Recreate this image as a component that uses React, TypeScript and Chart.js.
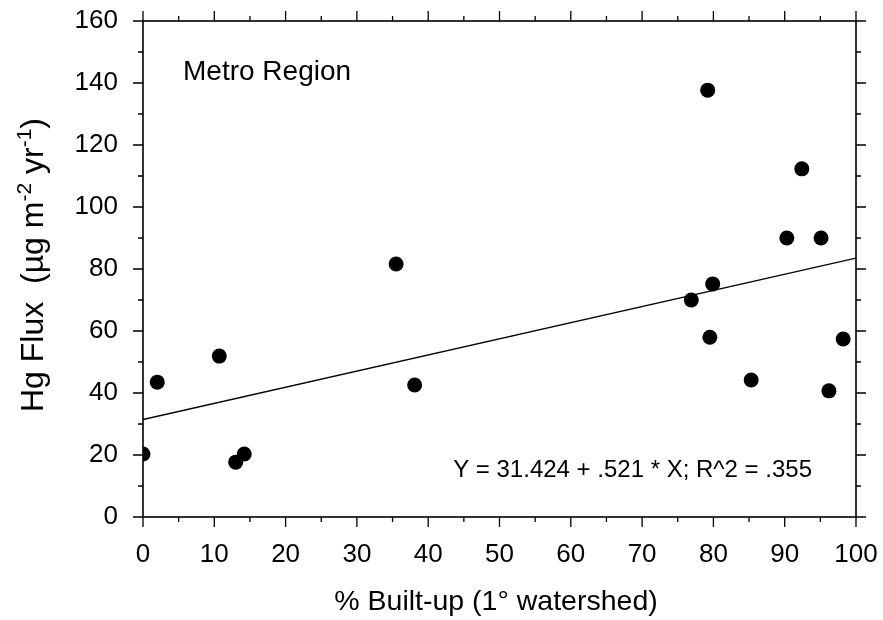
import React, { useEffect, useRef } from "react";
import { Chart, registerables } from "chart.js";

Chart.register(...registerables);

const builtUp = [0, 2, 10.7, 13.0, 14.2, 35.5, 38.1, 76.9, 79.2, 79.9, 79.5, 92.4, 90.3, 95.1, 85.3, 96.2, 98.2];
const hgFlux = [20.3, 43.5, 51.9, 17.7, 20.3, 81.6, 42.6, 70.0, 137.7, 75.2, 58.0, 112.3, 90.0, 90.0, 44.2, 40.7, 57.4];

const fitX = [0, 100];
const fitY = [31.424, 83.524];

const xTicks = [0, 10, 20, 30, 40, 50, 60, 70, 80, 90, 100];
const yTicks = [0, 20, 40, 60, 80, 100, 120, 140, 160];

const FONT = "'Liberation Sans', Arial, Helvetica, sans-serif";

const framePlugin = {
  id: "framePlugin",
  afterDraw(chart: any) {
    const ctx = chart.ctx;
    const { left, right, top, bottom } = chart.chartArea;
    const xs = chart.scales.x;
    const ys = chart.scales.y;
    ctx.save();
    ctx.strokeStyle = "#000";
    ctx.lineWidth = 1.6;
    ctx.strokeRect(left, top, right - left, bottom - top);
    ctx.lineWidth = 1.3;
    ctx.beginPath();
    for (let v = 0; v <= 100; v += 5) {
      const px = xs.getPixelForValue(v);
      const len = v % 10 === 0 ? 10 : 5;
      ctx.moveTo(px, bottom);
      ctx.lineTo(px, bottom + len);
      ctx.moveTo(px, top);
      ctx.lineTo(px, top - len);
    }
    for (let v = 0; v <= 160; v += 10) {
      const py = ys.getPixelForValue(v);
      const len = v % 20 === 0 ? 10 : 5;
      ctx.moveTo(left, py);
      ctx.lineTo(left - len, py);
      ctx.moveTo(right, py);
      ctx.lineTo(right + len, py);
    }
    ctx.stroke();

    // annotations
    ctx.fillStyle = "#000";
    ctx.textBaseline = "alphabetic";
    ctx.textAlign = "left";
    ctx.font = `28px ${FONT}`;
    ctx.fillText("Metro Region", left + 40, top + 59);
    ctx.font = `24px ${FONT}`;
    ctx.fillText("Y = 31.424 + .521 * X; R^2 = .355", xs.getPixelForValue(43.5), bottom - 40);

    // x title
    ctx.font = `28.5px ${FONT}`;
    ctx.textAlign = "center";
    ctx.fillText("% Built-up (1° watershed)", 496, 610);

    // y title with superscripts
    const parts: [string, boolean][] = [
      ["Hg Flux  (µg m", false],
      ["-2", true],
      [" yr", false],
      ["-1", true],
      [")", false],
    ];
    const mainFont = `32px ${FONT}`;
    const supFont = `21px ${FONT}`;
    let total = 0;
    const widths: number[] = [];
    for (const [t, sup] of parts) {
      ctx.font = sup ? supFont : mainFont;
      const w = ctx.measureText(t).width;
      widths.push(w);
      total += w;
    }
    ctx.translate(43, 265);
    ctx.rotate(-Math.PI / 2);
    ctx.textAlign = "left";
    let x = -total / 2;
    parts.forEach(([t, sup], i) => {
      ctx.font = sup ? supFont : mainFont;
      ctx.fillText(t, x, sup ? -12 : 0);
      x += widths[i];
    });
    ctx.restore();
  },
};

export default function App() {
  const ref = useRef<HTMLCanvasElement | null>(null);
  useEffect(() => {
    if (!ref.current) return;
    const points = builtUp.map((x, i) => ({ x, y: hgFlux[i] }));
    const fit = fitX.map((x, i) => ({ x, y: fitY[i] }));
    const chart = new Chart(ref.current, {
      type: "scatter",
      data: {
        datasets: [
          {
            data: fit,
            showLine: true,
            borderColor: "#000",
            borderWidth: 1.4,
            pointRadius: 0,
            fill: false,
          },
          {
            data: points,
            pointRadius: 7.5,
            pointBackgroundColor: "#000",
            pointBorderWidth: 0,
            borderColor: "#000",
          },
        ],
      },
      options: {
        animation: false,
        responsive: true,
        maintainAspectRatio: false,
        layout: { autoPadding: false, padding: { top: 21, right: 27, left: 0, bottom: 0 } },
        plugins: {
          legend: { display: false },
          tooltip: { enabled: false },
        },
        scales: {
          x: {
            type: "linear",
            min: 0,
            max: 100,
            afterBuildTicks: (s: any) => {
              s.ticks = xTicks.map((v) => ({ value: v }));
            },
            afterFit: (s: any) => {
              s.height = 103;
            },
            ticks: {
              color: "#000",
              font: { family: FONT, size: 26 },
              padding: 0,
              maxRotation: 0,
            },
            grid: { display: true, drawOnChartArea: false, drawTicks: true, tickLength: 22, color: "rgba(0,0,0,0)" },
            border: { display: false },
          },
          y: {
            type: "linear",
            min: 0,
            max: 160,
            afterBuildTicks: (s: any) => {
              s.ticks = yTicks.map((v) => ({ value: v }));
            },
            afterFit: (s: any) => {
              s.width = 143;
            },
            ticks: {
              color: "#000",
              font: { family: FONT, size: 26 },
              padding: 0,
            },
            grid: { display: true, drawOnChartArea: false, drawTicks: true, tickLength: 25, color: "rgba(0,0,0,0)" },
            border: { display: false },
          },
        },
      },
      plugins: [framePlugin],
    });
    return () => chart.destroy();
  }, []);
  return (
    <div style={{ position: "fixed", left: 0, top: 0, width: 883, height: 620, background: "#fff" }}>
      <canvas ref={ref} />
    </div>
  );
}
